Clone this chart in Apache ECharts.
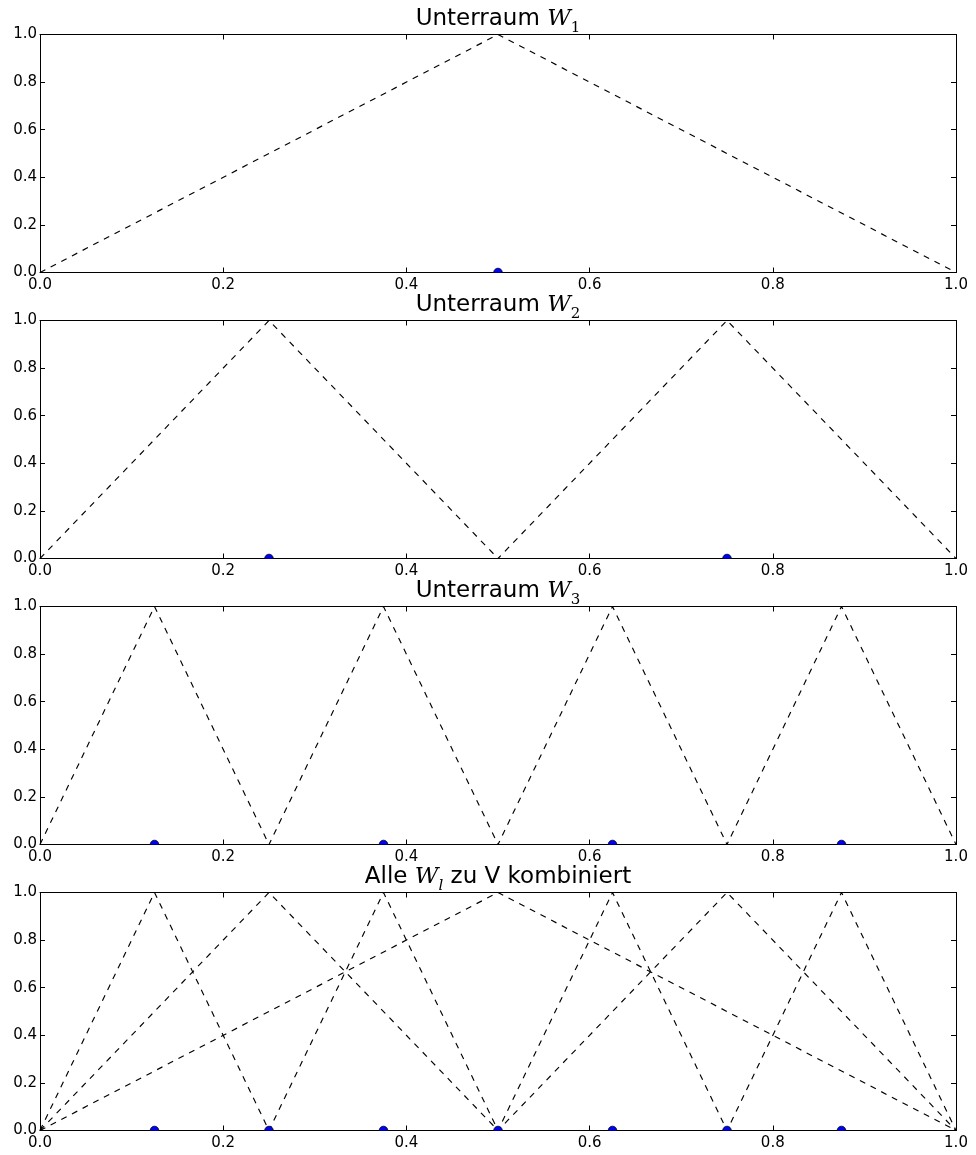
<!DOCTYPE html>
<html><head><meta charset="utf-8">
<script src="https://cdn.jsdelivr.net/npm/echarts@6/dist/echarts.min.js"></script>
<style>html,body{margin:0;padding:0;background:#fff}#c{width:976px;height:1155px}</style>
</head><body><div id="c"></div><script>
// ---- data ----
const tickLabels = ['0.0', '0.2', '0.4', '0.6', '0.8', '1.0'];
const w1Hats = [
  [[0, 0], [0.5, 1], [1, 0]]
];
const w2Hats = [
  [[0, 0], [0.25, 1], [0.5, 0], [1, 0]],
  [[0, 0], [0.5, 0], [0.75, 1], [1, 0]]
];
const w3Hats = [
  [[0, 0], [0.125, 1], [0.25, 0], [1, 0]],
  [[0, 0], [0.25, 0], [0.375, 1], [0.5, 0], [1, 0]],
  [[0, 0], [0.5, 0], [0.625, 1], [0.75, 0], [1, 0]],
  [[0, 0], [0.75, 0], [0.875, 1], [1, 0]]
];
const w1Nodes = [0.5];
const w2Nodes = [0.25, 0.75];
const w3Nodes = [0.125, 0.375, 0.625, 0.875];
const allNodes = [0.125, 0.25, 0.375, 0.5, 0.625, 0.75, 0.875];

const panels = [
  { title: [['a', 'Unterraum '], ['w', 'W'], ['s', '1']], hats: w1Hats, nodes: w1Nodes },
  { title: [['a', 'Unterraum '], ['w', 'W'], ['s', '2']], hats: w2Hats, nodes: w2Nodes },
  { title: [['a', 'Unterraum '], ['w', 'W'], ['s', '3']], hats: w3Hats, nodes: w3Nodes },
  { title: [['a', 'Alle '], ['w', 'W'], ['si', 'l'], ['a', ' zu V kombiniert']], hats: w1Hats.concat(w2Hats, w3Hats), nodes: allNodes }
];

// ---- layout ----
const L = 40, R = 20, TOP0 = 34.5, STEP = 286, H = 238;
const FONT = 'DejaVu Sans';

const grids = [], xAxes = [], yAxes = [], series = [], graphics = [];
const fmt = v => tickLabels[Math.round(v * 5)];

panels.forEach((p, i) => {
  const top = TOP0 + STEP * i;
  grids.push({ left: L, right: R, top: top, height: H });
  const lineStyle = { color: '#000', width: 1 };
  const baseAxis = {
    gridIndex: i, type: 'value', min: 0, max: 1, interval: 0.2,
    axisLine: { show: true, onZero: false, lineStyle },
    axisTick: { show: true, inside: true, length: 5, lineStyle },
    splitLine: { show: false }
  };
  xAxes.push(Object.assign({}, baseAxis, {
    position: 'bottom',
    axisLabel: { show: true, formatter: fmt, color: '#000', fontSize: 15, fontFamily: FONT, margin: 5, showMinLabel: true, showMaxLabel: true }
  }));
  xAxes.push(Object.assign({}, baseAxis, { position: 'top', axisLabel: { show: false } }));
  yAxes.push(Object.assign({}, baseAxis, {
    position: 'left',
    axisLabel: { show: true, formatter: fmt, color: '#000', fontSize: 15, fontFamily: FONT, margin: 3, showMinLabel: true, showMaxLabel: true }
  }));
  yAxes.push(Object.assign({}, baseAxis, { position: 'right', axisLabel: { show: false } }));

  p.hats.forEach(h => {
    series.push({
      type: 'line', xAxisIndex: 2 * i, yAxisIndex: 2 * i, data: h,
      showSymbol: false, symbol: 'none', clip: true, silent: true, animation: false,
      lineStyle: { color: '#000', width: 1.15, type: [6, 6] }, z: 2
    });
  });
  series.push({
    type: 'custom', xAxisIndex: 2 * i, yAxisIndex: 2 * i, clip: true, animation: false, silent: true, z: 3,
    data: p.nodes.map(x => [x, 0]),
    encode: { x: 0, y: 1 },
    renderItem: (params, api) => {
      const pt = api.coord([api.value(0), api.value(1)]);
      return { type: 'circle', shape: { cx: pt[0], cy: pt[1], r: 4.3 }, style: { fill: '#0000ff', stroke: '#000', lineWidth: 0.8 } };
    }
  });

  graphics.push({
    type: 'text', x: L + (976 - L - R) / 2, y: top - 27,
    style: {
      text: p.title.map(t => '{' + t[0] + '|' + t[1] + '}').join(''),
      align: 'center', verticalAlign: 'top',
      rich: {
        a: { fontFamily: FONT, fontSize: 23, lineHeight: 26, verticalAlign: 'top', color: '#000' },
        w: { fontFamily: 'DejaVu Serif', fontStyle: 'italic', fontSize: 23, lineHeight: 26, verticalAlign: 'top', color: '#000' },
        s: { fontFamily: 'DejaVu Serif', fontSize: 15, lineHeight: 16, padding: [13, 0, 0, 0], verticalAlign: 'top', color: '#000' },
        si: { fontFamily: 'DejaVu Serif', fontStyle: 'italic', fontSize: 15, lineHeight: 16, padding: [13, 0, 0, 0], verticalAlign: 'top', color: '#000' }
      }
    }
  });
});

const chart = echarts.init(document.getElementById('c'), null, { renderer: 'canvas' });
chart.setOption({
  animation: false,
  backgroundColor: '#fff',
  grid: grids, xAxis: xAxes, yAxis: yAxes, series: series, graphic: graphics
});
</script></body></html>
